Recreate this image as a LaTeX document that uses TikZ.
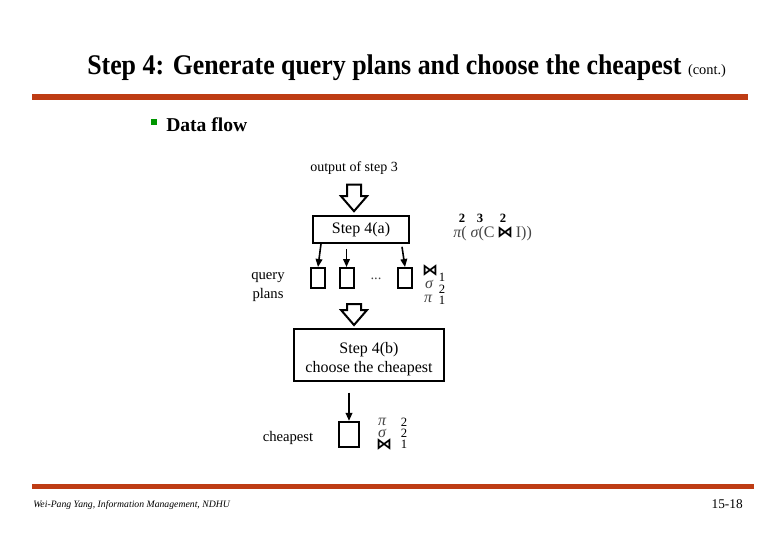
\documentclass[tikz,border=0pt]{standalone}
\usepackage{fontspec}
\setmainfont{Liberation Serif}
\newfontfamily\opfont{DejaVu Sans}
\usetikzlibrary{arrows.meta, positioning, calc}
\definecolor{barred}{RGB}{190,60,20}
\definecolor{bulletgreen}{RGB}{0,150,0}
\definecolor{symgray}{RGB}{70,70,70}
\newcommand{\joinop}{{\opfont\bfseries\color{black}\fontsize{12}{12}\selectfont ⋈}}
\newcommand{\projop}{{\itshape π}}
\newcommand{\selop}{{\itshape σ}}
\tikzset{
  stepbox/.style={rectangle, draw=black, line width=1.5pt, align=center,
    inner sep=0pt, font=\fontsize{12}{14.25}\selectfont},
  planbox/.style={rectangle, draw=black, line width=1.5pt,
    minimum width=10.5pt, minimum height=15pt, inner sep=0pt},
  arrow/.style={-{Triangle[length=6pt,width=5pt]}, line width=1.2pt},
  hollow/.style={draw=black, line width=1.5pt, fill=white, line join=miter},
  lbl/.style={inner sep=0pt, font=\fontsize{11}{14.25}\selectfont},
  sym/.style={inner sep=0pt, text=symgray, font=\fontsize{12}{12}\selectfont},
  num/.style={inner sep=0pt, font=\fontsize{9.5}{11}\selectfont},
  numb/.style={inner sep=0pt, font=\fontsize{9.5}{11}\selectfont\bfseries}
}
% fat arrow from a top point down to its tip
\newcommand{\hollowarrow}[2]{%
  \draw[hollow] let \p1=(#1), \p2=(#2) in
    (\x1-5.25pt,\y1) -- (\x1-5.25pt,\y2+11.25pt) -- (\x1-9.75pt,\y2+11.25pt)
    -- (\x1,\y2) -- (\x1+9.75pt,\y2+11.25pt) -- (\x1+5.25pt,\y2+11.25pt)
    -- (\x1+5.25pt,\y1) -- cycle;}

\begin{document}
\begin{tikzpicture}[x=0.75pt, y=-0.75pt]
  \useasboundingbox (0,0) rectangle (780,540);

  % header
  \node[anchor=base west, inner sep=0pt, font=\fontsize{19.4}{24}\selectfont\bfseries] (title) at (87,74) {\scalebox{1}[1.1]{Step 4: Generate query plans and choose the cheapest}};
  \node[anchor=base west, inner sep=0pt, xshift=4.5pt, font=\fontsize{10.8}{13}\selectfont] (cont) at (title.base east) {(cont.)};
  \fill[barred] (32,94) rectangle (748,100);

  \fill[bulletgreen] (151,119) rectangle (157,125);
  \node[anchor=base west, inner sep=0pt, font=\fontsize{14.7}{17}\selectfont\bfseries] (dataflow) at (166,131) {Data flow};

  % step 4(a)
  \node[lbl, font=\fontsize{10.5}{12}\selectfont] (outp) at (354,168) {output of step 3};
  \node[stepbox, minimum width=72pt, minimum height=20pt] (stepA) at (361,229.5) {Step 4(a)};

  \node[planbox] (plan1) at (318,278) {};
  \node[planbox] (plan2) at (346.5,278) {};
  \node[planbox] (plan3) at (405,278) {};
  \node[lbl, text=symgray] (dots) at (376,279) {...};
  \node[lbl, align=center] (qplans) at (268,287) {query\\plans};

  \hollowarrow{$(outp.south)+(0,10)$}{$(outp.south |- stepA.north)+(0,-4)$}
  \draw[arrow] ($(stepA.south west)+(9,0)$) -- (plan1.north);
  \draw[arrow] ($(stepA.south -| plan2.north)+(0,5)$) -- (plan2.north);
  \draw[arrow] ($(stepA.south east)+(-8,3)$) -- (plan3.north);

  % step 4(b)
  \node[stepbox, minimum width=112.5pt, minimum height=39pt] (stepB) at (369,355) {\rule{0pt}{14pt}Step 4(b)\\choose the cheapest};
  \node[planbox, minimum width=15pt, minimum height=19pt] (best) at (349,434.5) {};
  \node[lbl] (cheap) at (288,438) {cheapest};

  \hollowarrow{$(outp.south |- plan2.south)+(0,15)$}{$(outp.south |- stepB.north)+(0,-3)$}
  \draw[arrow, shorten <=8pt] (stepB.south -| best.north) -- (best.north);

  % operator counts
  \node[numb] (e1) at (462,218) {2};
  \node[numb] (e2) at (480,218) {3};
  \node[numb] (e3) at (503,218) {2};
  \node[sym, anchor=west] (expr) at (453,234) {\projop( \selop(C\,\joinop\,I))};

  \node[sym] (j1) at (430,270) {\joinop};
  \node[num] (j1n) at (442,277) {1};
  \node[sym] (s1) at (429,284) {\selop};
  \node[num] (s1n) at (442,289) {2};
  \node[sym] (p1) at (428,299) {\projop};
  \node[num] (p1n) at (442,300) {1};

  \node[sym] (p2) at (382,422) {\projop};
  \node[num] (p2n) at (404,422) {2};
  \node[sym] (s2) at (382,433) {\selop};
  \node[num] (s2n) at (404,433) {2};
  \node[sym] (j2) at (384,444) {\joinop};
  \node[num] (j2n) at (404,444) {1};

  % footer
  \fill[barred] (32,484) rectangle (754,489);
  \node[anchor=base west, inner sep=0pt, font=\fontsize{7.3}{9}\selectfont\itshape] (author) at (33,507) {Wei-Pang Yang, Information Management, NDHU};
  \node[anchor=base east, inner sep=0pt, font=\fontsize{10}{12}\selectfont] (page) at (743,508) {15-18};
\end{tikzpicture}
\end{document}
